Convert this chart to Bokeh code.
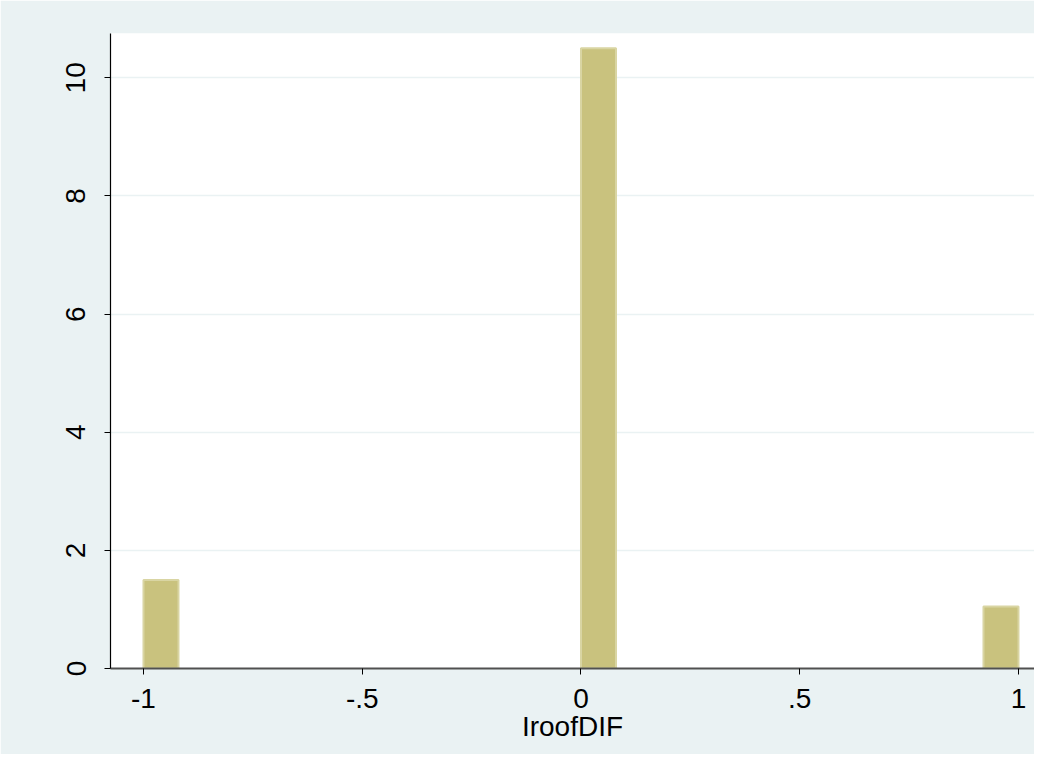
from bokeh.plotting import figure
from bokeh.models import Range1d, FixedTicker
from bokeh.embed import file_html
from bokeh.resources import INLINE

# Data (density histogram of IroofDIF)
bin_left = [-1.0, 0.0, 0.92]
bin_right = [-0.92, 0.08, 1.0]
density = [1.5, 10.5, 1.05]

x_ticks = [-1, -0.5, 0, 0.5, 1]
x_tick_labels = ["-1", "-.5", "0", ".5", "1"]
y_ticks = [0, 2, 4, 6, 8, 10]
y_tick_labels = ["0", "2", "4", "6", "8", "10"]

BG = "#eaf2f3"
FONT = "Liberation Sans"
FS = "28px"

p = figure(width=1034, height=754, output_backend="svg", toolbar_location=None,
           x_range=Range1d(-1.0754, 1.0366), y_range=Range1d(0, 10.75),
           min_border_left=110, min_border_right=0, min_border_top=33, min_border_bottom=86)

p.background_fill_color = "white"
p.border_fill_color = BG
p.outline_line_color = None

p.quad(left=bin_left, right=bin_right, bottom=0, top=density,
       fill_color="#c9c27e", line_color="#d9d5a3", line_width=2)

# axes
p.xaxis.ticker = FixedTicker(ticks=x_ticks)
p.xaxis.major_label_overrides = {t: l for t, l in zip(x_ticks, x_tick_labels)}
p.yaxis.ticker = FixedTicker(ticks=y_ticks)
p.yaxis.major_label_overrides = {t: l for t, l in zip(y_ticks, y_tick_labels)}

p.xaxis.axis_label = "IroofDIF"
p.xaxis.axis_label_text_font = FONT
p.xaxis.axis_label_text_font_size = FS
p.xaxis.axis_label_text_font_style = "normal"
p.xaxis.axis_label_text_color = "black"
p.xaxis.axis_label_standoff = 0

for ax in (p.xaxis, p.yaxis):
    ax.major_label_text_font = FONT
    ax.major_label_text_font_size = FS
    ax.major_label_text_color = "black"
    ax.major_tick_out = 6
    ax.major_tick_in = 0
    ax.minor_tick_out = 0
    ax.minor_tick_in = 0
    ax.major_tick_line_color = "black"

p.xaxis.axis_line_color = "#505050"
p.xaxis.axis_line_width = 2
p.xaxis.major_label_standoff = 14
p.yaxis.axis_line_color = "black"
p.yaxis.axis_line_width = 1.2
p.yaxis.major_label_orientation = "vertical"
p.yaxis.major_label_standoff = 19

p.xgrid.grid_line_color = None
p.ygrid.ticker = FixedTicker(ticks=y_ticks)
p.ygrid.grid_line_color = BG
p.ygrid.grid_line_width = 1.5

open("out.html", "w").write(file_html(p, INLINE))
